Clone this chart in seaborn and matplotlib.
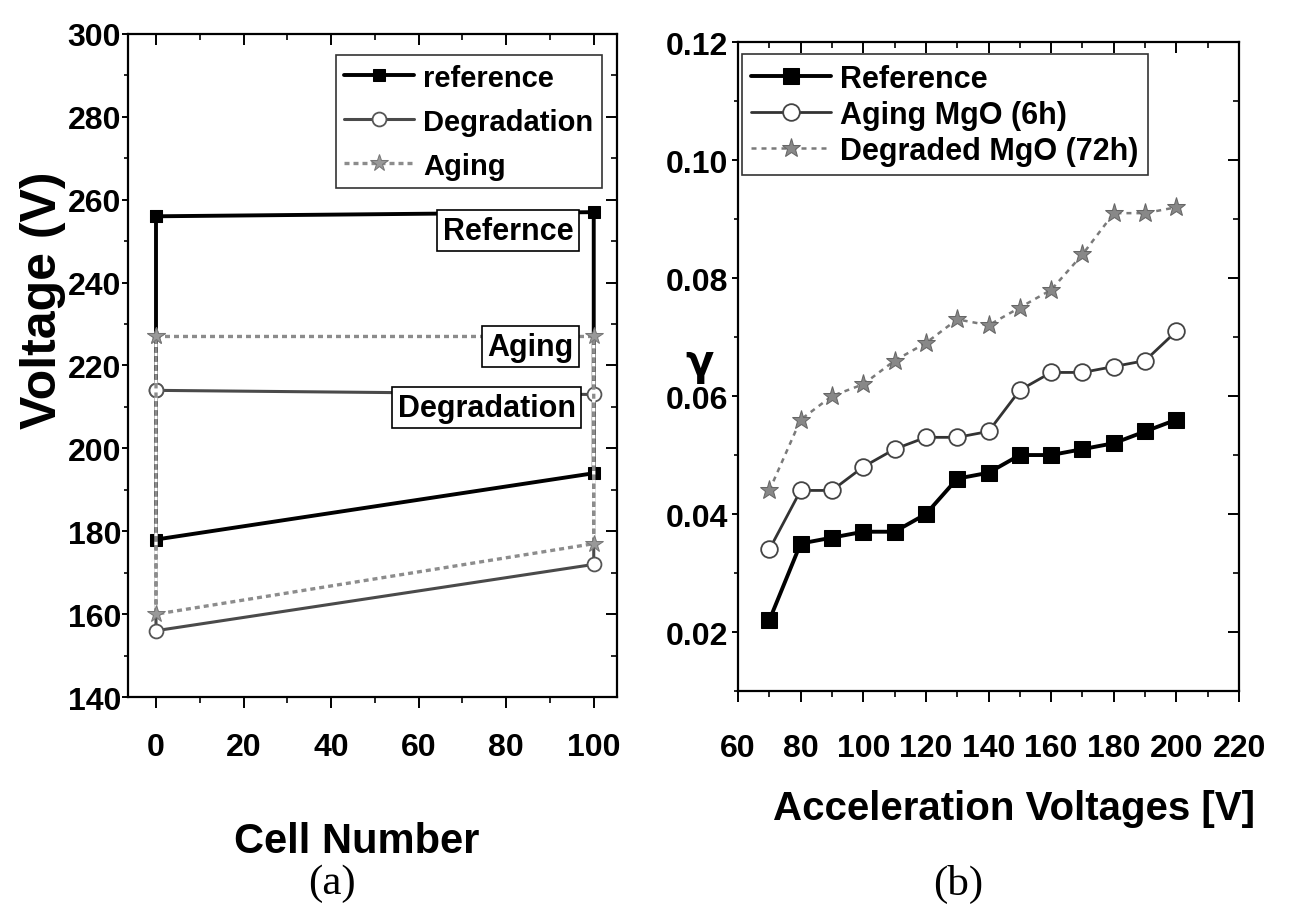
import matplotlib
matplotlib.use("Agg")
import matplotlib.pyplot as plt
import seaborn as sns
from matplotlib.ticker import MultipleLocator, FormatStrFormatter

# ---------------- data ----------------
# (a) cell-number plot: each series is a closed path (0 -> 100 -> 100 -> 0 -> 0)
cell_x = [0, 100, 100, 0, 0]
ref_v = [256, 257, 194, 178, 256]
deg_v = [214, 213, 172, 156, 214]
aging_v = [227, 227, 177, 160, 227]

# (b) secondary electron emission coefficient vs acceleration voltage
acc_v = [70, 80, 90, 100, 110, 120, 130, 140, 150, 160, 170, 180, 190, 200]
gamma_ref = [0.022, 0.035, 0.036, 0.037, 0.037, 0.040, 0.046, 0.047, 0.050,
             0.050, 0.051, 0.052, 0.054, 0.056]
gamma_aging = [0.034, 0.044, 0.044, 0.048, 0.051, 0.053, 0.053, 0.054, 0.061,
               0.064, 0.064, 0.065, 0.066, 0.071]
gamma_degr = [0.044, 0.056, 0.060, 0.062, 0.066, 0.069, 0.073, 0.072, 0.075,
              0.078, 0.084, 0.091, 0.091, 0.092]

# ---------------- style ----------------
sns.set_style("white")
plt.rcParams["font.family"] = ["Liberation Sans", "DejaVu Sans"]
plt.rcParams["font.weight"] = "bold"
plt.rcParams["axes.labelweight"] = "bold"
for key in ("text.color", "axes.labelcolor", "xtick.color", "ytick.color",
            "axes.edgecolor"):
    plt.rcParams[key] = "black"

fig = plt.figure(figsize=(12.98, 9.2), dpi=100)
ax1 = fig.add_axes([0.0986, 0.2413, 0.3767, 0.7207])
ax2 = fig.add_axes([0.5686, 0.2478, 0.386, 0.7054])

# ---- (a)
sns.lineplot(x=cell_x, y=ref_v, sort=False, estimator=None, ax=ax1,
             color="black", lw=2.8, marker="s", markersize=9,
             markerfacecolor="black", markeredgecolor="black",
             label="reference", zorder=2)
sns.lineplot(x=cell_x, y=deg_v, sort=False, estimator=None, ax=ax1,
             color="#4a4a4a", lw=2.2, marker="o", markersize=10,
             markerfacecolor="white", markeredgecolor="#555555",
             markeredgewidth=1.3, label="Degradation", zorder=3)
sns.lineplot(x=cell_x, y=aging_v, sort=False, estimator=None, ax=ax1,
             color="#8c8c8c", lw=2.4, linestyle=(0, (1.5, 1.2)), gapcolor="white",
             marker="*", markersize=13, markerfacecolor="#999999",
             markeredgecolor="#777777", label="Aging", zorder=4)

ax1.set_xlim(-6.4, 105.3)
ax1.set_ylim(140, 300)
ax1.xaxis.set_major_locator(MultipleLocator(20))
ax1.xaxis.set_minor_locator(MultipleLocator(10))
ax1.yaxis.set_major_locator(MultipleLocator(20))
ax1.yaxis.set_minor_locator(MultipleLocator(10))

leg1 = ax1.legend(loc="upper right", fontsize=21, frameon=True, fancybox=False,
                  edgecolor="black", handlelength=2.4, borderaxespad=0.6,
                  labelspacing=0.55, handletextpad=0.3, borderpad=0.3,
                  bbox_to_anchor=(1.005, 0.995))
leg1.get_frame().set_linewidth(1.2)

box = dict(boxstyle="square,pad=0.18", facecolor="white", edgecolor="black", lw=1.2)
ax1.text(95.4, 252.5, "Refernce", ha="right", va="center", fontsize=22,
         fontweight="bold", bbox=box, zorder=6)
ax1.text(95.4, 224.5, "Aging", ha="right", va="center", fontsize=22,
         fontweight="bold", bbox=box, zorder=6)
ax1.text(95.9, 209.8, "Degradation", ha="right", va="center", fontsize=22,
         fontweight="bold", bbox=box, zorder=6)

ax1.set_xlabel("Cell Number", fontsize=30, fontweight="bold")
ax1.set_ylabel("Voltage (V)", fontsize=36, fontweight="bold")
ax1.xaxis.set_label_coords(0.468, -0.187)
ax1.yaxis.set_label_coords(-0.127, 0.60)

# ---- (b)
sns.lineplot(x=acc_v, y=gamma_ref, sort=False, estimator=None, ax=ax2,
             color="black", lw=2.8, marker="s", markersize=12,
             markerfacecolor="black", markeredgecolor="black",
             label="Reference", zorder=3)
sns.lineplot(x=acc_v, y=gamma_aging, sort=False, estimator=None, ax=ax2,
             color="#333333", lw=2.0, marker="o", markersize=12,
             markerfacecolor="white", markeredgecolor="#444444",
             markeredgewidth=1.3, label="Aging MgO (6h)", zorder=2)
sns.lineplot(x=acc_v, y=gamma_degr, sort=False, estimator=None, ax=ax2,
             color="#7a7a7a", lw=1.8, linestyle=(0, (2, 2)), marker="*",
             markersize=14, markerfacecolor="#888888",
             markeredgecolor="#666666", label="Degraded MgO (72h)", zorder=2)

ax2.set_xlim(60, 220)
ax2.set_ylim(0.01, 0.12)
ax2.xaxis.set_major_locator(MultipleLocator(20))
ax2.xaxis.set_minor_locator(MultipleLocator(10))
ax2.yaxis.set_major_locator(MultipleLocator(0.02))
ax2.yaxis.set_minor_locator(MultipleLocator(0.01))
ax2.yaxis.set_major_formatter(FormatStrFormatter("%.2f"))

leg2 = ax2.legend(loc="upper left", fontsize=22, frameon=True, fancybox=False,
                  edgecolor="black", handlelength=2.6, borderaxespad=0.3,
                  labelspacing=0.2, handletextpad=0.3, borderpad=0.3,
                  bbox_to_anchor=(-0.01, 0.995))
leg2.get_frame().set_linewidth(1.2)

ax2.set_xlabel("Acceleration Voltages [V]", fontsize=29, fontweight="bold")
ax2.xaxis.set_label_coords(0.551, -0.151)
ax2.set_ylabel("γ", fontsize=30, fontweight="bold", rotation=0,
               family=["DejaVu Sans"])
ax2.yaxis.label.set_va("center")
ax2.yaxis.set_label_coords(-0.076, 0.507)

# ---- common axes styling
for ax, xpad, ypad in ((ax1, 17.5, 1.0), (ax2, 22.0, 3.0)):
    for s in ax.spines.values():
        s.set_visible(True)
        s.set_color("black")
        s.set_linewidth(1.6)
    ax.tick_params(axis="x", which="major", direction="out", length=8,
                   width=1.4, labelsize=23, bottom=True, pad=xpad)
    ax.tick_params(axis="x", which="minor", direction="out", length=4,
                   width=1.2, bottom=True)
    ax.tick_params(axis="y", which="major", direction="out", length=4,
                   width=1.4, labelsize=23, left=True, pad=ypad)
    ax.tick_params(axis="y", which="minor", direction="out", length=3,
                   width=1.2, left=True)
    for lab in ax.get_xticklabels() + ax.get_yticklabels():
        lab.set_fontweight("bold")
    # inward ticks on the top and right spines
    top = ax.secondary_xaxis("top")
    top.xaxis.set_major_locator(MultipleLocator(20))
    top.xaxis.set_minor_locator(MultipleLocator(10))
    top.tick_params(axis="x", which="major", direction="in", length=8, width=1.4,
                    labeltop=False)
    top.tick_params(axis="x", which="minor", direction="in", length=4, width=1.2)
    top.spines["top"].set_visible(False)
    right = ax.secondary_yaxis("right")
    right.yaxis.set_major_locator(ax.yaxis.get_major_locator())
    right.yaxis.set_minor_locator(ax.yaxis.get_minor_locator())
    right.tick_params(axis="y", which="major", direction="in", length=8, width=1.4,
                      labelright=False)
    right.tick_params(axis="y", which="minor", direction="in", length=4, width=1.2)
    right.spines["right"].set_visible(False)

fig.text(0.2558, 0.0391, "(a)", ha="center", va="center", fontsize=31,
         fontweight="normal", family=["Liberation Serif", "DejaVu Serif"])
fig.text(0.738, 0.0391, "(b)", ha="center", va="center", fontsize=31,
         fontweight="normal", family=["Liberation Serif", "DejaVu Serif"])

fig.savefig("out.png", dpi=100)
